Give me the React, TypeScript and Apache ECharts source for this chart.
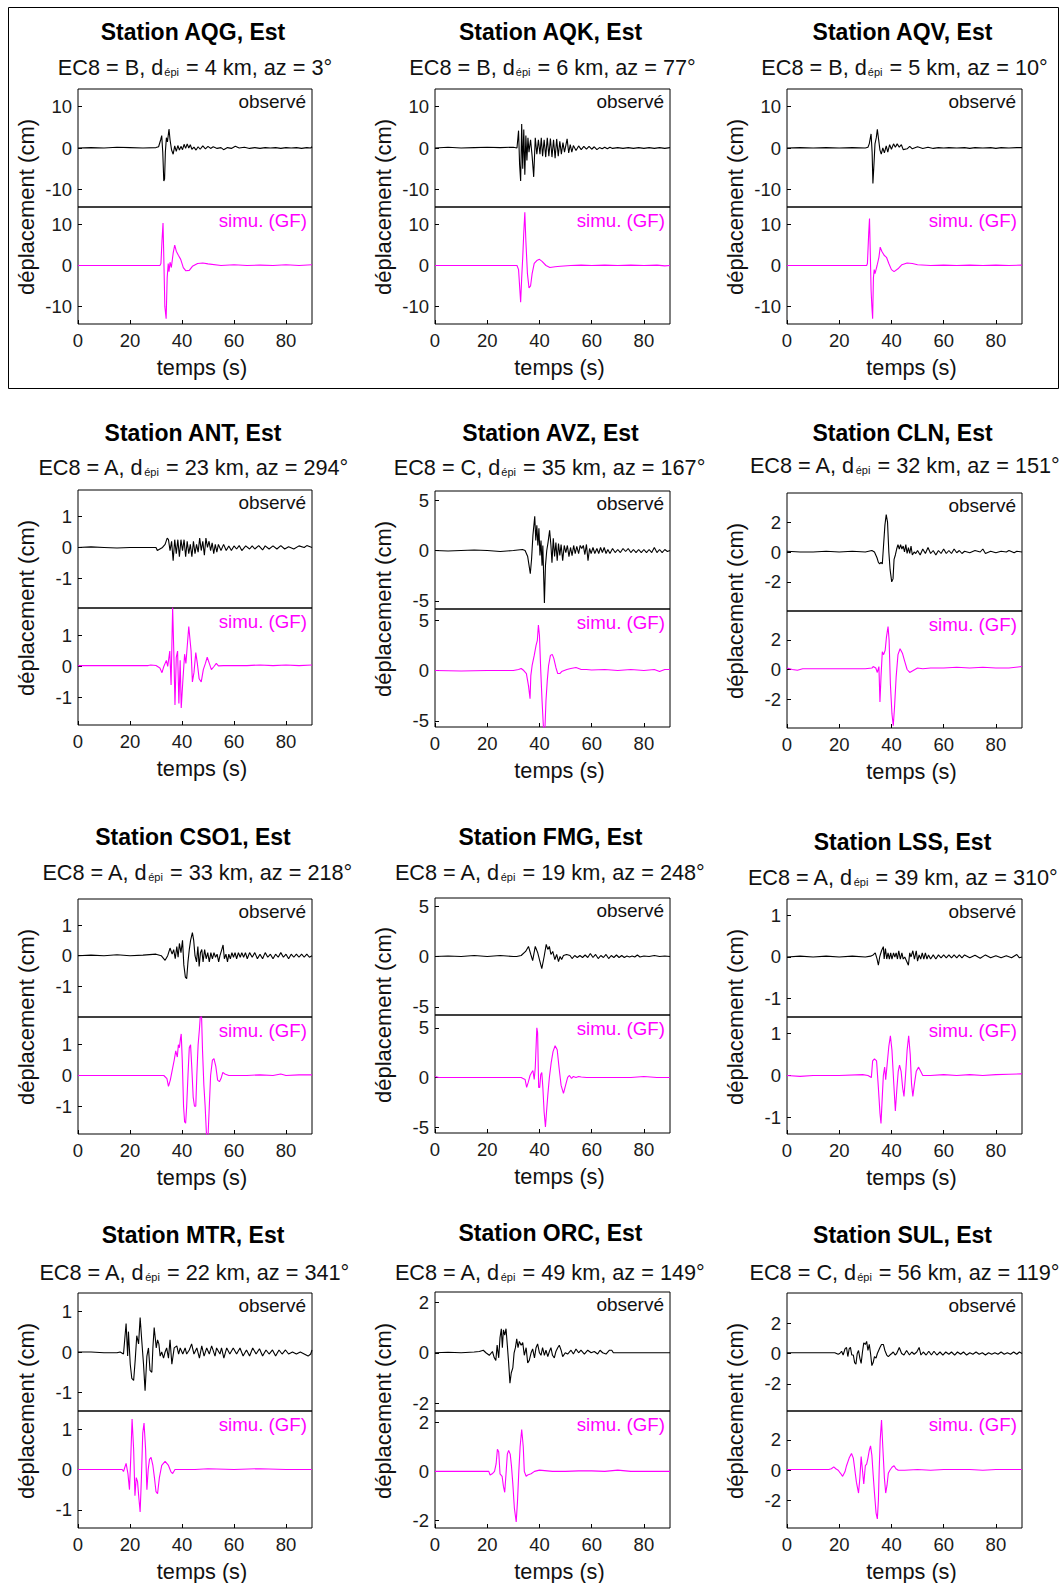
import React, { useEffect, useRef } from "react";
import * as echarts from "echarts";

// ---------------- data ----------------
const stations = ["AQG", "AQK", "AQV", "ANT", "AVZ", "CLN", "CSO1", "FMG", "LSS", "MTR", "ORC", "SUL"];
const ec8Class = ["B", "B", "B", "A", "C", "A", "A", "A", "A", "A", "A", "C"];
const dEpiKm = [4, 6, 5, 23, 35, 32, 33, 19, 39, 22, 49, 56];
const azimuthDeg = [3, 77, 10, 294, 167, 151, 218, 248, 310, 341, 149, 119];
// [min, max] of the displacement axis, observed / simulated sub-plots
const yRangeObs = [
  [-14.3, 14.3], [-14.3, 14.3], [-14.3, 14.3],
  [-1.95, 1.85], [-5.8, 5.9], [-3.95, 3.95],
  [-2.0, 1.85], [-5.8, 5.8], [-1.45, 1.4],
  [-1.45, 1.45], [-2.3, 2.4], [-3.8, 4.0],
];
const yRangeSim = [
  [-14.3, 14.3], [-14.3, 14.3], [-14.3, 14.3],
  [-1.9, 1.9], [-5.6, 6.1], [-3.95, 3.95],
  [-1.9, 1.9], [-5.6, 6.3], [-1.4, 1.4],
  [-1.45, 1.45], [-2.3, 2.45], [-3.8, 3.9],
];
const yTickLabels = [
  [-10, 0, 10], [-10, 0, 10], [-10, 0, 10],
  [-1, 0, 1], [-5, 0, 5], [-2, 0, 2],
  [-1, 0, 1], [-5, 0, 5], [-1, 0, 1],
  [-1, 0, 1], [-2, 0, 2], [-2, 0, 2],
];
const xTickLabels = [0, 20, 40, 60, 80];
const obsLabel = "observé";
const simLabel = "simu. (GF)";
const xName = "temps (s)";
const yName = "déplacement (cm)";

const aqgObs = [[0,0],[5,0.1],[10,0],[15,0.2],[20,0.1],[25,0],[30,0.1],[31,0.3],[31.8,2],[32.2,3],[32.6,-1],[33,-8],[33.3,-7.5],[33.6,-1],[34,2.5],[34.4,1.5],[35,4.6],[35.4,2],[36,-0.5],[36.6,-1.5],[37.2,0.5],[37.8,-0.8],[38.4,0.6],[39,-0.5],[39.6,0.4],[40.2,-0.4],[40.8,0.9],[41.4,-0.1],[42,1],[42.6,0],[43.2,0.8],[43.8,-0.3],[44.6,0.2],[45.4,-0.5],[46.2,0.3],[47,-0.3],[48,0.5],[49,-0.2],[50,0.4],[51,-0.1],[52,0.3],[53.5,-0.1],[55,0.1],[56,-0.4],[57.5,0.1],[59,-0.1],[60.5,0.4],[62,0],[64,0.2],[66,-0.1],[68,0.1],[70,-0.1],[72,0.1],[74,0],[76,0.1],[78,-0.1],[80,0.1],[82,0],[84,0.1],[86,-0.1],[88,0.1],[89.5,0],[90,0.3]];
const aqgSim = [[0,0],[10,0],[20,0],[31.5,0],[31.9,0.5],[32.3,6],[32.7,10.4],[33,2],[33.4,-10],[33.9,-13],[34.3,-3],[34.7,0.5],[35,-1.5],[35.4,0.8],[35.9,-0.5],[36.6,3],[37.2,5],[37.8,3.5],[38.6,2.5],[39.5,1.5],[40.5,-0.5],[41.5,-1.3],[42.8,-1.2],[44,-0.2],[46,0.5],[48,0.6],[50,0.4],[55,0],[60,0.2],[65,0],[70,0.1],[75,0],[80,0.2],[85,0],[90,0.2]];
const aqkObs = [[0,0],[5,0.2],[10,0],[15,0.1],[20,0.2],[25,0.1],[30,0.2],[31.4,0],[32,4.2],[32.4,-4],[32.8,-8],[33.2,5.8],[33.6,-5],[34,4.5],[34.4,-6.5],[34.8,3],[35.2,-3],[35.6,2.5],[36,-1],[36.6,2],[37.2,-2],[37.8,-7],[38.4,2.5],[39,-1.5],[39.6,2],[40.2,-1.5],[40.7,2.5],[41.2,-2],[41.8,2],[42.4,-2.2],[43,2.5],[43.6,-2],[44.2,2.3],[44.8,-2.2],[45.4,2],[46,-2.5],[46.6,2.2],[47.2,-2],[47.8,1.6],[48.4,-1.5],[49,1.3],[49.6,-1],[50.6,2.2],[51.2,-1.2],[51.8,0.8],[52.4,-1],[53,0.6],[54,-0.6],[55,0.5],[56,-0.4],[57,0.4],[58,-0.3],[59,0.4],[60,-0.3],[61,0.3],[62,-0.4],[63,0.1],[64,-0.2],[65,0.2],[66,-0.2],[67,0.2],[68,-0.1],[70,0.1],[72,-0.1],[74,0.1],[76,-0.1],[78,0.1],[80,-0.1],[82,0.1],[84,-0.1],[86,0.1],[88,-0.1],[90,0.1]];
const aqkSim = [[0,0],[10,0],[20,0],[31.4,0],[32,-1],[32.5,-6],[32.8,-9],[33.2,-3],[33.6,2],[34,8],[34.4,13],[34.8,6],[35.4,-2],[36,-5.5],[36.6,-5],[37.2,-2],[38,0.5],[39,1.2],[40,1.5],[41,1],[42.5,0],[44,-0.5],[46,-0.3],[48,-0.2],[52,0],[56,0.1],[60,0],[65,0.1],[70,0],[75,0.1],[80,0],[85,0.1],[88,-0.1],[90,0]];
const aqvObs = [[0,0],[5,0.1],[10,0],[15,0.1],[20,0],[25,0.1],[30,0],[31,0.2],[31.5,1],[32.2,3.4],[32.6,-1],[32.9,-8.6],[33.3,-4],[33.7,1],[34.2,2.5],[34.6,4.5],[35.1,2],[35.6,-0.5],[36.1,-1.5],[36.7,0],[37.3,-1.2],[38,0.5],[38.6,-1],[39.3,0.8],[40,-0.3],[40.8,1],[41.5,0.2],[42.2,1],[43,0.2],[43.8,0.8],[44.5,-0.4],[46,-0.2],[47,0.4],[48,-0.2],[50,0.3],[52,-0.1],[54,0.2],[56,-0.1],[58,0.1],[60,0],[62,0.1],[65,0],[68,0.1],[70,-0.1],[72,0.1],[75,0],[78,0.1],[80,-0.1],[82,0.1],[85,0],[88,0.1],[90,0.1]];
const aqvSim = [[0,0],[10,0],[20,0],[30.5,0],[30.8,0.5],[31.3,8],[31.6,11.5],[31.9,3],[32.2,-6],[32.5,-10],[32.8,-13],[33.1,-3],[33.4,-1],[33.7,-2],[34.1,-1],[34.5,0],[35.2,2],[35.7,4.5],[36.3,3.5],[37.2,2.5],[38.1,2],[39,0.5],[40,-1],[41,-1.5],[42.5,-0.8],[44,0.2],[46,0.6],[48,0.5],[50,0.2],[55,0],[60,0.1],[65,0],[70,0.1],[75,0],[80,0.1],[85,0],[90,0.1]];
const antObs = [[0,0],[5,0.02],[10,0],[15,-0.02],[20,0],[25,0],[30,0],[30.5,-0.1],[31.5,-0.05],[32.5,0],[33.5,0.1],[34.3,0.3],[34.8,0.25],[35.4,-0.1],[36,0.2],[36.6,-0.43],[37.2,0.25],[37.8,-0.2],[38.4,0.25],[39,-0.3],[39.6,0.25],[40.2,-0.1],[40.8,0.25],[41.4,-0.3],[42,0.2],[42.6,-0.2],[43.2,0.1],[43.8,-0.3],[44.4,0.2],[45,-0.2],[45.6,0.1],[46.2,-0.15],[46.8,0.3],[47.4,-0.1],[48,0.2],[48.6,-0.25],[49.2,0.3],[49.8,0],[50.4,0.2],[51,-0.1],[51.6,0.15],[52.2,-0.2],[52.8,0.1],[53.4,-0.15],[54,0.1],[55,-0.1],[56,0.1],[57,-0.1],[58,0.05],[59,-0.1],[60,0.05],[61,-0.05],[62,0.06],[63,-0.1],[64.5,0.05],[66,-0.05],[67,0.05],[68,-0.05],[69.5,0.06],[71,-0.08],[72,0.05],[73.5,-0.05],[75,0.05],[76.5,-0.05],[78,0.06],[79.5,-0.05],[81,0.02],[83,-0.05],[85,0.05],[87,0],[88,0.06],[90,0]];
const antSim = [[0,0.03],[10,0.03],[20,0.03],[27,0.03],[28,0.05],[30,0.03],[31.5,-0.05],[32.3,-0.2],[33,0],[34,0.2],[34.5,0],[35.3,0.5],[35.8,-0.6],[36.4,1.92],[36.9,0.3],[37.3,-1.25],[37.8,0.3],[38.3,0.5],[38.8,-1.2],[39.3,0.2],[39.7,-1.35],[40.3,-0.5],[41,0.4],[41.5,0.1],[42.6,1.3],[43.5,0.5],[44,-0.5],[44.6,-0.2],[45.3,0.45],[45.9,0.1],[46.6,-0.4],[47.4,-0.5],[48.2,-0.1],[49,0.1],[49.7,0.3],[50.5,0.1],[51.3,-0.1],[52.3,0],[53.2,0.1],[54,0.02],[56,0.03],[60,0.03],[65,0.03],[70,0.05],[75,0.03],[80,0.05],[85,0.03],[90,0.05]];
const avzObs = [[0,0],[5,-0.05],[10,0],[15,0.05],[20,0],[25,-0.1],[30,0],[33.5,0.1],[34.5,0],[35.5,-0.6],[36.5,-2.3],[37,-0.8],[37.5,1.5],[38.2,3.4],[38.6,1],[39,2.5],[39.4,0.5],[39.8,2.2],[40.2,-0.5],[40.6,1],[41,-1.5],[41.3,0.5],[41.9,-5.2],[42.3,-1.5],[42.8,0],[43.3,0.8],[43.9,2],[44.4,0.5],[44.8,-1.2],[45.3,1.2],[45.8,-0.6],[46.3,0.8],[46.8,-1],[47.3,0.7],[47.8,-0.5],[48.3,0.6],[48.9,-1],[49.5,0.5],[50.1,-0.2],[50.7,0.5],[51.3,-0.6],[51.9,0.3],[52.5,-0.5],[53.1,0.5],[53.7,-0.3],[54.3,0.4],[55,-0.3],[55.6,0.5],[56.2,0.2],[56.8,0.5],[57.4,-0.4],[58,0.6],[58.6,-1],[59.2,0.2],[59.8,-0.3],[60.5,0.3],[61.2,-0.3],[62,0.2],[62.7,-0.3],[63.4,0.3],[64.1,-0.2],[64.8,0.3],[65.5,-0.3],[66.2,0.1],[67,-0.3],[68,0.2],[69,-0.2],[70,0.1],[71,-0.2],[72,0.2],[73,-0.1],[74,0.2],[75,-0.2],[76,0.1],[77,-0.2],[78,0.1],[79,-0.2],[80,0.1],[81,-0.2],[82,0.1],[83,-0.2],[84,0.3],[85,-0.2],[86,0.1],[87,-0.2],[88,0.1],[89,-0.1],[90,0]];
const avzSim = [[0,0],[10,-0.05],[20,0],[30,0],[32,0.1],[33,0.2],[34,0],[35,-0.3],[35.8,-1.5],[36.4,-2.8],[36.7,-0.5],[37.2,0.5],[38,1.5],[38.7,2.5],[39.2,3],[39.6,4.5],[40,3.5],[40.5,0],[41,-3],[41.5,-5.5],[42,-6.5],[42.5,-3],[43,-1],[43.5,0.5],[44.2,1.5],[44.9,1.6],[45.5,1.2],[46.3,0.3],[47,-0.3],[47.8,-0.3],[48.5,-0.1],[49.5,0],[50.5,0.1],[52,0.2],[54,0.3],[56,0.1],[58,0.1],[60,0.05],[65,0.1],[70,0],[75,0.1],[80,0],[84,0.1],[86,-0.1],[88,0.1],[90,0.1]];
const clnObs = [[0,0.05],[5,0],[10,0],[15,0.05],[20,0],[25,0.05],[30,0],[32.5,0.1],[33.5,0],[34.5,-0.4],[35,-0.7],[35.5,-0.8],[36,-0.7],[36.5,-0.8],[37,0.5],[37.5,1.8],[38,2.5],[38.5,2],[39,0],[39.5,-1.2],[40.1,-2],[40.6,-1.8],[41,-0.5],[41.5,-0.2],[42,0.2],[42.5,0.5],[43,0.2],[43.5,0.5],[44,0.2],[44.5,0.4],[45,0],[45.5,0.5],[46,-0.1],[46.5,0.3],[47,-0.1],[47.5,0.4],[48,-0.2],[48.7,0],[49.3,-0.1],[50,0.1],[51,-0.2],[52,0.2],[53,-0.1],[54,0.3],[55,-0.1],[56,0.1],[57,-0.2],[58,0.1],[59,-0.1],[60,0.2],[61,-0.1],[62,0.1],[63,-0.1],[64,0.2],[65,-0.05],[66,0.1],[67,-0.1],[68,0.05],[70,-0.05],[72,0.1],[74,0],[75,0.2],[76,-0.1],[78,0.05],[80,-0.05],[82,0.05],[84,0],[85,0.1],[87,-0.05],[88,0.05],[90,0]];
const clnSim = [[0,0.1],[2,0],[4,-0.05],[6,0.05],[10,0.05],[20,0.05],[30,0.05],[32.5,0.1],[33,0.2],[34,0.1],[34.6,-0.2],[35.2,0.2],[35.6,-2.2],[36,-0.5],[36.5,1.2],[37,1],[37.6,1.3],[38.1,2.2],[38.7,2.9],[39.1,2],[39.6,-1],[40.2,-3],[40.7,-3.8],[41.2,-2.5],[41.8,-0.5],[42.5,1],[43.3,1.4],[44.2,1.1],[45,0.6],[46,0],[47,-0.2],[48,-0.1],[49,0],[50,0.1],[52,0.05],[55,0.1],[60,0.1],[65,0.15],[70,0.1],[75,0.15],[80,0.1],[85,0.1],[90,0.2]];
const cso1Obs = [[0,0],[5,0.02],[10,0],[15,0.03],[20,0],[25,0.02],[30,0.05],[32,0],[33.5,-0.15],[34.5,0],[35.4,0.25],[36.2,0.05],[36.8,0.2],[37.4,-0.1],[38,0.3],[38.5,-0.05],[39,0.4],[39.6,0.1],[40.2,0.5],[40.7,-0.3],[41.3,-0.7],[41.8,-0.75],[42.3,-0.2],[42.8,0.2],[43.3,0.5],[44,0.75],[44.5,0.5],[45,0],[45.6,-0.2],[46.1,0.3],[46.6,-0.35],[47.1,0.1],[47.6,0.2],[48.1,-0.2],[48.7,0.2],[49.3,-0.1],[49.9,0.1],[50.5,-0.2],[51.1,0.1],[51.7,-0.1],[52.3,0.1],[52.9,-0.05],[53.5,0.05],[54.1,-0.2],[54.6,0],[55.3,0.2],[55.8,0.35],[56.3,-0.1],[56.9,0.05],[57.5,-0.2],[58,0.05],[58.6,-0.1],[59.2,0.1],[59.8,-0.05],[60.4,0.1],[61,-0.1],[61.7,0.1],[62.4,-0.05],[63,0.1],[63.7,-0.05],[64.4,0.1],[65.1,-0.1],[66,0.1],[67,-0.05],[68,0.1],[69,-0.1],[70,0.05],[71,-0.1],[72,0.1],[73,-0.05],[74,0.05],[75,-0.1],[76,0.05],[77,-0.05],[78,0.1],[79,-0.05],[80,0.05],[81,-0.1],[82,0.05],[83,-0.05],[84,0.05],[85,-0.05],[86,0.05],[87,-0.05],[88,0.05],[89,-0.05],[90,0]];
const cso1Sim = [[0,0],[10,0],[20,0],[30,0],[33,0],[34.2,-0.1],[34.8,-0.35],[35.5,-0.15],[36.3,0.2],[37,0.5],[37.6,0.8],[38.2,0.6],[38.6,1],[39,0.9],[39.4,1.2],[39.7,1.35],[40.1,0.5],[40.6,-1],[41,-1.5],[41.4,-1.55],[41.8,-1],[42.3,0],[42.8,0.9],[43.3,1],[43.8,0.2],[44.3,-0.7],[44.8,-1],[45.3,-1],[45.7,0],[46.2,1],[46.7,1.5],[47.1,2],[47.5,2],[47.9,0.8],[48.4,-0.3],[48.9,-1],[49.4,-1.9],[49.9,-2.2],[50.4,-1.2],[51,0],[51.7,0.5],[52.3,0.55],[53,0.3],[53.7,-0.15],[54.4,-0.2],[55,-0.1],[55.7,0.1],[56.5,0.05],[58,0],[60,0],[65,0],[70,0.02],[75,0],[78,0.05],[80,0],[85,0.02],[90,0.02]];
const fmgObs = [[0,0],[5,0.05],[10,0],[15,0.1],[20,0],[25,0.1],[30,0],[31.3,0],[33,0.1],[34.7,0.5],[35.8,1],[36.7,0.2],[37.4,-0.4],[38.4,1],[39.3,0.4],[40.2,-0.5],[40.9,-1.2],[41.8,0],[42.6,1.2],[43.2,0.7],[43.8,1],[44.4,0.2],[45.1,0.5],[45.9,-0.3],[46.6,0.2],[47.3,-0.5],[47.9,0],[48.5,-0.3],[49.2,0.1],[50.4,0.2],[51.7,0.1],[52.5,-0.2],[53.5,0.1],[54.5,-0.1],[55.5,0.1],[56.5,-0.1],[57.5,0.15],[58.5,-0.1],[59.5,0.3],[60.5,-0.1],[61.5,0.2],[62.5,-0.2],[63.5,0.1],[64.5,-0.1],[65.5,0.2],[66.5,-0.2],[67.5,0.1],[68.5,-0.1],[69.5,0.15],[70.5,-0.1],[71.5,0.1],[72.5,-0.1],[73.5,0.05],[74.5,-0.05],[75.5,0.05],[76.5,-0.05],[77.5,0.15],[78.5,-0.05],[80,0.05],[82,0],[84,0.1],[86,0],[88,0.05],[90,0]];
const fmgSim = [[0,0.1],[1.5,0],[10,0],[20,0],[30,0],[33,0],[34.5,-0.2],[35.1,-1],[35.7,-0.5],[36.4,0.2],[37,0.5],[37.5,0.7],[38,-0.2],[38.4,1],[39,5],[39.3,4.5],[39.7,-1],[40.1,-1],[40.5,0.3],[40.9,0.5],[41.3,-1],[41.8,-3.5],[42.3,-5],[42.7,-3.5],[43.2,-1.8],[43.8,0],[44.5,1.5],[45.2,2.6],[46,3.2],[46.8,2.8],[47.5,1],[48.3,-0.8],[49.2,-1.6],[50,-0.8],[50.8,0],[51.5,0.2],[52.3,-0.1],[53,0.1],[54,0],[55,0.1],[56,0.05],[58,0],[60,0],[65,0],[70,0],[75,0],[80,0.1],[85,0],[90,0]];
const lssObs = [[0,0],[5,0.02],[10,0],[15,0.02],[20,0],[25,0.02],[30,0],[32,0.02],[33,0.05],[33.8,0.1],[34.5,-0.05],[35,-0.2],[35.5,0],[36.2,0.15],[36.9,0.25],[37.2,-0.05],[37.7,0.2],[38.2,-0.05],[38.7,0.1],[39.2,-0.05],[39.7,0.1],[40.2,-0.05],[40.8,0.1],[41.3,0],[41.8,0.1],[42.3,-0.05],[42.8,0.15],[43.4,-0.05],[44,0.1],[44.5,-0.05],[45.1,0],[46.5,-0.2],[47,0.1],[47.5,0],[48.2,0.15],[48.8,-0.05],[49.5,0.15],[50,-0.1],[50.6,0.05],[51.2,-0.05],[51.8,0.1],[52.4,-0.05],[53,0.1],[53.6,-0.05],[54.2,0.05],[55,-0.05],[56,0.05],[57,-0.05],[58,0.05],[59,-0.02],[60,0.05],[61,-0.02],[62,0.05],[63,-0.02],[64,0.05],[65,-0.02],[66,0.05],[67,-0.02],[68,0.05],[70,-0.02],[72,0.04],[74,-0.03],[76,0.05],[78,-0.02],[80,0.03],[82,-0.02],[84,0.03],[86,-0.02],[88,0.06],[89,-0.02],[90,0]];
const lssSim = [[0,0],[5,-0.02],[10,0],[20,0],[29,0.02],[31,0],[32.3,-0.05],[32.8,0.35],[33.5,0.4],[34.3,0.35],[35,-0.3],[35.6,-0.9],[36,-1.15],[36.5,-0.5],[36.9,0],[37.4,0.2],[37.8,-0.1],[38.4,0.3],[39,0.7],[39.6,0.95],[40.2,0.6],[40.9,-0.2],[41.5,-0.85],[42.1,-0.3],[42.6,0.1],[43.1,0.25],[43.7,0.1],[44.3,-0.3],[44.8,-0.5],[45.4,0],[46,0.6],[46.6,0.95],[47.2,0.5],[47.7,-0.2],[48.2,-0.5],[48.8,-0.2],[49.5,0.1],[50.4,0.2],[51.2,0.1],[52,0],[55,0],[60,0.02],[65,0],[70,0.02],[75,0],[80,0.02],[85,0.03],[90,0.04]];
const mtrObs = [[0,0],[5,0],[10,-0.02],[15,-0.02],[16.2,0],[17.5,-0.05],[18.5,0.7],[19.1,-0.1],[19.4,0.5],[20.1,-0.3],[20.7,-0.65],[21.4,-0.7],[22,-0.2],[22.6,0.4],[23.3,0.2],[23.9,0.85],[24.5,0.3],[25.2,-0.3],[25.8,-0.95],[26.5,-0.1],[27.1,0.1],[27.7,-0.45],[28.4,-0.5],[28.8,0.1],[29.3,0.6],[30.1,0.1],[30.6,0.3],[31.1,0.2],[31.6,-0.1],[32.2,0],[32.9,-0.15],[33.5,0],[34.1,0.1],[34.8,-0.15],[35.4,0.3],[36.1,-0.3],[37,0.1],[38,0.15],[38.7,-0.05],[39.3,0.1],[40.3,-0.05],[41.2,0.1],[41.8,-0.05],[42.8,0.05],[43.7,0.2],[44.6,-0.05],[45.7,0.1],[46.7,-0.15],[47.6,0.15],[48.5,-0.1],[49.5,0.1],[50.5,-0.05],[51.4,0.15],[52.7,-0.1],[53.3,0.1],[54.6,-0.05],[55.2,0.1],[56.1,-0.15],[57.2,0.1],[58.4,-0.05],[59.7,0.1],[61,-0.05],[62.3,0.1],[63.5,-0.1],[64.8,0.05],[66,-0.1],[67.2,0.1],[68.5,-0.05],[69.8,0.08],[71,-0.1],[72.3,0.05],[73.5,-0.05],[74.8,0.05],[76,-0.1],[77.3,0.05],[78.5,-0.05],[79.8,0.05],[81,-0.05],[82.5,0],[84,-0.05],[85.5,0],[87,-0.05],[88.5,-0.1],[89.5,-0.05],[90,0.05]];
const mtrSim = [[0,0],[10,0],[17,0],[17.5,-0.05],[18.5,0.15],[19.2,-0.1],[19.8,-0.5],[20.3,0.3],[20.8,1.25],[21.4,0.5],[21.9,-0.65],[22.4,-0.2],[22.9,-0.3],[23.4,-0.7],[23.9,-1.05],[24.4,-0.2],[24.9,0.9],[25.4,1.15],[26,0.5],[26.5,-0.5],[27,0],[27.5,0.25],[28.1,0.3],[28.8,0.1],[29.4,-0.2],[30,-0.55],[30.6,-0.6],[31.3,-0.2],[32.2,0.1],[33.5,0.2],[34.8,0.1],[35.7,-0.05],[36.4,-0.1],[37.3,0],[40,0],[45,0],[50,0.02],[60,0],[70,0.02],[80,0],[90,0]];
const orcObs = [[0,0],[5,0.02],[10,0],[15,0.03],[17,0.05],[18.5,0.1],[19.5,0],[20.8,-0.1],[22,0.05],[22.7,-0.2],[23.3,-0.3],[23.8,0.3],[24.4,-0.2],[24.9,0.6],[25.4,0.95],[25.8,0.2],[26.2,0.9],[26.7,0.7],[27.2,0.95],[27.7,0.3],[28.2,-0.4],[28.7,-1.2],[29.2,-0.8],[29.8,-0.6],[30.3,0],[30.8,0.2],[31.3,0.55],[31.8,0.2],[32.3,0.45],[33,0.3],[33.6,0.4],[34.2,-0.1],[34.9,0.2],[35.5,-0.4],[36.1,-0.3],[36.8,0],[37.4,0.15],[38.1,-0.2],[38.7,0.2],[39.3,0.35],[40,0],[40.6,-0.1],[41.2,0.2],[41.9,-0.1],[42.5,0.1],[43.2,-0.15],[43.8,0.05],[44.4,0.2],[45,-0.1],[45.7,-0.2],[46.3,0.05],[47,0.2],[47.6,0.3],[48.3,0.1],[48.9,-0.15],[49.9,0],[50.8,-0.05],[52.1,0.1],[53,-0.05],[54,0.15],[55,0],[55.9,0.1],[57.2,-0.05],[58.5,0.1],[59.8,0],[61,0.05],[62.3,-0.05],[63.2,0.1],[64.2,0],[65.5,-0.05],[66.8,0.1],[67.7,0.1],[68.3,0],[75,0],[80,0],[90,0]];
const orcSim = [[0,0],[10,0],[20,0],[20.6,0],[21.1,-0.15],[21.9,-0.1],[22.8,0],[23.4,0.3],[23.9,0.9],[24.4,0.8],[24.9,-0.1],[25.7,-0.2],[26.2,-0.6],[26.7,-0.85],[27.2,-0.1],[27.7,0.7],[28.2,0.85],[28.8,0.7],[29.3,0.2],[29.8,-0.5],[30.4,-1.5],[31.1,-2.05],[31.6,-1.2],[32.1,0],[32.6,1],[33.2,1.7],[33.8,1],[34.2,0],[34.9,-0.2],[35.5,-0.15],[36.8,-0.1],[38.1,0],[40,0.05],[45,0],[50,0],[55,0.02],[60,0.02],[65,0],[70,0.05],[75,0],[90,0]];
const sulObs = [[0,0.05],[5,0.05],[10,0.05],[15,0.05],[18.3,0.05],[19.6,-0.05],[20.2,0],[20.9,0.15],[21.5,-0.1],[22.2,0.3],[22.8,0.4],[23.3,-0.2],[23.8,0.3],[24.3,0.4],[24.8,-0.1],[25.4,-0.1],[25.9,-0.6],[26.4,-0.7],[26.9,0],[27.4,0.2],[27.9,-0.3],[28.4,-0.65],[28.9,0.1],[29.4,0.7],[30,0.6],[30.5,0.8],[31,0.2],[31.5,0.6],[32,0],[32.5,-0.8],[33,-0.6],[33.5,-0.2],[34.1,-0.3],[34.6,0],[35.1,0.2],[35.6,0.4],[36.2,0.6],[36.9,0.6],[37.5,0.2],[38.2,-0.1],[38.8,-0.2],[39.4,-0.1],[40.1,0],[40.7,0.1],[41.4,-0.1],[42,0],[43,0.4],[43.9,0],[44.8,-0.1],[45.8,0.2],[46.9,-0.1],[47.8,0.1],[48.7,-0.05],[49.7,0.1],[50.6,0.4],[51.3,-0.1],[52.2,0.1],[53.3,-0.1],[54.3,0.15],[55.3,-0.1],[56.3,0.15],[57.4,-0.1],[58.6,0.1],[59.7,-0.1],[60.8,0.1],[62,-0.05],[63,0.1],[64.2,-0.1],[65.3,0.1],[66.5,-0.05],[67.6,0.1],[68.8,-0.1],[70,0.05],[71.2,-0.05],[72.4,0.1],[73.6,-0.05],[74.8,0.05],[76,-0.1],[77.2,0.05],[78.4,-0.05],[79.6,0.05],[80.8,-0.05],[82,0.1],[83.2,-0.05],[84.4,0.05],[85.6,-0.05],[86.8,0.1],[88,-0.05],[89,0.1],[90,0]];
const sulSim = [[0,0.05],[10,0.05],[16,0.05],[17,0.1],[17.9,0.22],[18.7,0.1],[19.6,0],[20.5,-0.2],[21.3,-0.4],[22.2,-0.1],[22.8,0.3],[23.8,0.8],[24.7,1.1],[25.4,0.8],[26,0],[26.6,-0.8],[27.4,-1.5],[27.9,-0.5],[28.4,0.9],[28.9,0],[29.4,-0.9],[30,0.3],[30.5,0.4],[31,0.8],[31.5,1.3],[32,1.6],[32.5,1],[33,-0.3],[33.5,-1.5],[34.1,-2.8],[34.6,-3.2],[35,-2],[35.3,0],[35.7,2],[36.2,3.3],[36.7,1.5],[37.3,-0.5],[37.8,-1.5],[38.3,-1],[38.8,-0.2],[39.4,0],[40.2,0.2],[41,0.3],[41.7,0.1],[42.6,0],[45,0],[50,0.05],[55,0],[60,0.05],[70,0.05],[75,0],[80,0.05],[90,0.05]];

const observed = [aqgObs, aqkObs, aqvObs, antObs, avzObs, clnObs, cso1Obs, fmgObs, lssObs, mtrObs, orcObs, sulObs];
const simulated = [aqgSim, aqkSim, aqvSim, antSim, avzSim, clnSim, cso1Sim, fmgSim, lssSim, mtrSim, orcSim, sulSim];

// ---------------- layout ----------------
const FONT = "'Liberation Sans', Arial, Helvetica, sans-serif";
const COL_LEFT = [78, 435, 787];
const COL_WIDTH = [234, 235, 235];
// [top, middle, bottom] per panel
const BOXES = [
  [89, 207, 324], [89, 207, 324], [89, 207, 324],
  [490, 608, 725], [491, 609, 727], [493, 611, 728],
  [899, 1017, 1134], [898, 1015, 1133], [899, 1017, 1134],
  [1293, 1411, 1528], [1292, 1411, 1528], [1293, 1411, 1528],
];
const TITLE_Y = [32, 32, 32, 433, 433, 433, 837, 837, 842, 1235, 1233, 1235];
const SUB_Y = [67, 67, 67, 467, 467, 465, 872, 872, 877, 1272, 1272, 1272];
const SUB_DX = [0, 0, 0, -2, -3, 0, 2, -3, -2, -1, -3, 0];

function buildOption() {
  const grid: any[] = [];
  const xAxis: any[] = [];
  const yAxis: any[] = [];
  const series: any[] = [];
  const graphic: any[] = [];

  graphic.push({
    type: "rect",
    shape: { x: 8.5, y: 7.5, width: 1050, height: 381 },
    style: { fill: "none", stroke: "#000", lineWidth: 1 },
    silent: true,
  });

  stations.forEach((st, i) => {
    const col = i % 3;
    const left = COL_LEFT[col];
    const width = COL_WIDTH[col];
    const [top, mid, bottom] = BOXES[i];
    const cx = left + width / 2;

    [0, 1].forEach((part) => {
      const k = i * 2 + part;
      const isBottom = part === 1;
      const range = isBottom ? yRangeSim[i] : yRangeObs[i];
      grid.push({
        left,
        top: isBottom ? mid : top,
        width,
        height: isBottom ? bottom - mid : mid - top,
        show: true,
        borderColor: "#000",
        borderWidth: 1,
        containLabel: false,
      });
      xAxis.push({
        gridIndex: k,
        type: "value",
        min: 0,
        max: 90,
        position: "bottom",
        axisLine: { show: false, onZero: false },
        splitLine: { show: false },
        axisTick: {
          show: isBottom,
          inside: true,
          length: 4,
          customValues: xTickLabels,
          lineStyle: { color: "#000" },
        },
        axisLabel: {
          show: isBottom,
          customValues: xTickLabels,
          margin: 7,
          fontSize: 18.5,
          fontFamily: FONT,
          color: "#1a1a1a",
        },
      });
      yAxis.push({
        gridIndex: k,
        type: "value",
        min: range[0],
        max: range[1],
        position: "left",
        axisLine: { show: false, onZero: false },
        splitLine: { show: false },
        axisTick: {
          show: true,
          inside: true,
          length: 4,
          customValues: yTickLabels[i],
          lineStyle: { color: "#000" },
        },
        axisLabel: {
          customValues: yTickLabels[i],
          margin: 6,
          fontSize: 18.5,
          fontFamily: FONT,
          color: "#1a1a1a",
        },
      });
      series.push({
        type: "line",
        xAxisIndex: k,
        yAxisIndex: k,
        data: isBottom ? simulated[i] : observed[i],
        symbol: "none",
        showSymbol: false,
        clip: true,
        silent: true,
        lineStyle: { width: 1.1, color: isBottom ? "#ff00ff" : "#000000" },
      });
    });

    graphic.push({
      type: "text",
      x: cx - 2,
      y: TITLE_Y[i],
      silent: true,
      style: {
        text: `Station ${st}, Est`,
        fontSize: 23,
        fontWeight: "bold",
        fontFamily: FONT,
        fill: "#000",
        align: "center",
        verticalAlign: "middle",
      },
    });
    graphic.push({
      type: "text",
      x: cx + SUB_DX[i],
      y: SUB_Y[i],
      silent: true,
      style: {
        text: `EC8 = ${ec8Class[i]}, d{s|épi} = ${dEpiKm[i]} km, az = ${azimuthDeg[i]}°`,
        fontSize: 21.7,
        fontFamily: FONT,
        fill: "#111",
        align: "center",
        verticalAlign: "middle",
        rich: {
          s: { fontSize: 11, fontFamily: FONT, fill: "#111", verticalAlign: "bottom", padding: [0, 1, 1, 1] },
        },
      },
    });
    graphic.push({
      type: "text",
      x: left - 52,
      y: mid,
      rotation: Math.PI / 2,
      silent: true,
      style: {
        text: yName,
        fontSize: 22,
        fontFamily: FONT,
        fill: "#111",
        align: "center",
        verticalAlign: "middle",
      },
    });
    graphic.push({
      type: "text",
      x: cx + 7,
      y: bottom + 43,
      silent: true,
      style: {
        text: xName,
        fontSize: 21.7,
        fontFamily: FONT,
        fill: "#111",
        align: "center",
        verticalAlign: "middle",
      },
    });
    graphic.push({
      type: "text",
      x: left + width - 6,
      y: top + 12,
      silent: true,
      style: {
        text: obsLabel,
        fontSize: 19,
        fontFamily: FONT,
        fill: "#111",
        align: "right",
        verticalAlign: "middle",
      },
    });
    graphic.push({
      type: "text",
      x: left + width - 5,
      y: mid + 13,
      silent: true,
      style: {
        text: simLabel,
        fontSize: 18.7,
        fontFamily: FONT,
        fill: "#ff00ff",
        align: "right",
        verticalAlign: "middle",
      },
    });
  });

  return {
    animation: false,
    backgroundColor: "#ffffff",
    textStyle: { fontFamily: FONT },
    grid,
    xAxis,
    yAxis,
    series,
    graphic,
  };
}

export default function App() {
  const ref = useRef<HTMLDivElement>(null);
  useEffect(() => {
    if (!ref.current) return;
    const chart = echarts.init(ref.current, undefined, { renderer: "svg" });
    chart.setOption(buildOption() as any);
    return () => chart.dispose();
  }, []);
  return (
    <div
      ref={ref}
      style={{ position: "absolute", left: 0, top: 0, width: 1060, height: 1583, background: "#fff" }}
    />
  );
}
